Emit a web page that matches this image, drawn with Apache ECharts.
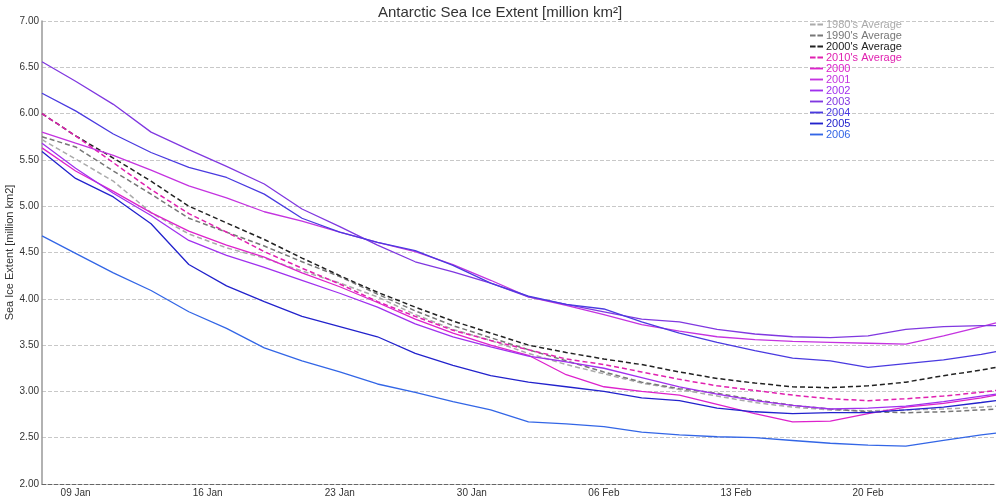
<!DOCTYPE html>
<html><head><meta charset="utf-8">
<script src="https://cdn.jsdelivr.net/npm/echarts@6/dist/echarts.min.js"></script>
<style>html,body{margin:0;padding:0;background:#fff}#c{width:1000px;height:500px}</style>
</head><body><div id="c"></div>
<script>
// day-of-year positions of the sampled points
const days = [7.22, 9, 11, 13, 15, 17, 19, 21, 23, 25, 27, 29, 31, 33, 35, 37, 39, 41, 43, 45, 47, 49, 51, 53, 55, 57, 57.78];
const tickDays = [9, 16, 23, 30, 37, 44, 51];
const tickLabels = ["09 Jan", "16 Jan", "23 Jan", "30 Jan", "06 Feb", "13 Feb", "20 Feb"];

const avg1980 = [5.72, 5.51, 5.27, 4.93, 4.70, 4.55, 4.44, 4.30, 4.17, 4.02, 3.83, 3.67, 3.55, 3.41, 3.29, 3.19, 3.09, 3.02, 2.95, 2.88, 2.83, 2.80, 2.79, 2.80, 2.81, 2.83, 2.84];
const avg1990 = [5.75, 5.64, 5.38, 5.13, 4.87, 4.72, 4.57, 4.40, 4.24, 4.05, 3.87, 3.71, 3.58, 3.45, 3.33, 3.21, 3.10, 3.03, 2.98, 2.91, 2.85, 2.81, 2.78, 2.77, 2.78, 2.80, 2.81];
const avg2000 = [6.00, 5.76, 5.52, 5.27, 5.00, 4.82, 4.64, 4.44, 4.25, 4.07, 3.91, 3.76, 3.63, 3.50, 3.42, 3.35, 3.29, 3.21, 3.14, 3.09, 3.05, 3.04, 3.06, 3.10, 3.17, 3.23, 3.26];
const avg2010 = [6.00, 5.76, 5.47, 5.18, 4.92, 4.72, 4.51, 4.33, 4.16, 3.97, 3.81, 3.66, 3.55, 3.45, 3.35, 3.29, 3.21, 3.13, 3.06, 3.01, 2.96, 2.92, 2.90, 2.92, 2.95, 2.99, 3.01];
const y2000 = [5.63, 5.38, 5.16, 4.93, 4.73, 4.58, 4.45, 4.28, 4.13, 3.96, 3.78, 3.63, 3.50, 3.39, 3.18, 3.05, 3.00, 2.96, 2.86, 2.76, 2.67, 2.68, 2.76, 2.83, 2.87, 2.93, 2.96];
const y2001 = [5.80, 5.68, 5.55, 5.39, 5.22, 5.09, 4.94, 4.84, 4.72, 4.61, 4.51, 4.37, 4.20, 4.02, 3.93, 3.83, 3.72, 3.65, 3.59, 3.56, 3.54, 3.53, 3.52, 3.51, 3.60, 3.70, 3.74];
const y2002 = [5.68, 5.41, 5.14, 4.90, 4.63, 4.47, 4.34, 4.20, 4.06, 3.91, 3.73, 3.59, 3.48, 3.38, 3.32, 3.25, 3.15, 3.05, 2.97, 2.90, 2.85, 2.81, 2.82, 2.84, 2.89, 2.95, 2.97];
const y2003 = [6.56, 6.35, 6.10, 5.80, 5.61, 5.43, 5.24, 4.97, 4.78, 4.58, 4.40, 4.29, 4.17, 4.02, 3.94, 3.86, 3.78, 3.75, 3.67, 3.62, 3.59, 3.58, 3.60, 3.67, 3.70, 3.71, 3.71];
const y2004 = [6.22, 6.03, 5.78, 5.58, 5.42, 5.31, 5.13, 4.87, 4.72, 4.61, 4.52, 4.36, 4.17, 4.03, 3.94, 3.89, 3.75, 3.63, 3.53, 3.44, 3.36, 3.33, 3.26, 3.30, 3.34, 3.40, 3.43];
const y2005 = [5.59, 5.30, 5.10, 4.81, 4.37, 4.14, 3.97, 3.81, 3.70, 3.59, 3.41, 3.28, 3.17, 3.10, 3.05, 3.00, 2.93, 2.90, 2.82, 2.78, 2.76, 2.77, 2.77, 2.80, 2.83, 2.88, 2.90];
const y2006 = [4.68, 4.49, 4.28, 4.09, 3.86, 3.68, 3.47, 3.33, 3.21, 3.08, 2.99, 2.89, 2.80, 2.67, 2.65, 2.62, 2.56, 2.53, 2.51, 2.50, 2.47, 2.44, 2.42, 2.41, 2.47, 2.53, 2.55];

const seriesDefs = [
  {name: "1980's Average", values: avg1980, color: "#aaaaaa", dashed: true},
  {name: "1990's Average", values: avg1990, color: "#777777", dashed: true},
  {name: "2000's Average", values: avg2000, color: "#222222", dashed: true},
  {name: "2010's Average", values: avg2010, color: "#e020b0", dashed: true},
  {name: "2000", values: y2000, color: "#dd22cc", dashed: false},
  {name: "2001", values: y2001, color: "#c433e0", dashed: false},
  {name: "2002", values: y2002, color: "#a030ee", dashed: false},
  {name: "2003", values: y2003, color: "#8038e0", dashed: false},
  {name: "2004", values: y2004, color: "#4a3ae0", dashed: false},
  {name: "2005", values: y2005, color: "#2222cc", dashed: false},
  {name: "2006", values: y2006, color: "#3366e6", dashed: false}
];

const DASH_ICON = 'path://M0,0H6V2H0Z M8,0H14V2H8Z';
const SOLID_ICON = 'path://M0,0H14V2H0Z';
const FONT = "'Liberation Sans', Arial, sans-serif";
const chart = echarts.init(document.getElementById('c'), null, {renderer: 'canvas'});
chart.setOption({
  animation: false,
  backgroundColor: '#ffffff',
  title: {
    text: 'Antarctic Sea Ice Extent [million km²]',
    left: 'center', top: 0,
    textStyle: {fontFamily: FONT, fontSize: 15, fontWeight: 'normal', color: '#333'}
  },
  legend: {
    orient: 'vertical', left: 810, top: 19,
    itemWidth: 13, itemHeight: 2, itemGap: 0, padding: 0,
    textStyle: {fontFamily: FONT, fontSize: 11, lineHeight: 10.4, padding: [0, 0, 0, -2]},
    data: seriesDefs.map(s => ({
      name: s.name,
      icon: s.dashed ? DASH_ICON : SOLID_ICON,
      itemStyle: {color: s.color},
      textStyle: {color: s.color}
    }))
  },
  grid: {left: 42, right: 4, top: 21, bottom: 16, containLabel: false, outerBoundsMode: 'none'},
  xAxis: {
    type: 'value', min: 7.22, max: 57.78,
    axisLine: {show: true, onZero: false, lineStyle: {color: '#666', type: 'dashed', width: 1}},
    axisTick: {show: false},
    splitLine: {show: false},
    axisLabel: {
      customValues: tickDays,
      formatter: v => tickLabels[tickDays.indexOf(v)] || '',
      fontFamily: FONT, fontSize: 10, color: '#333', margin: 4
    }
  },
  yAxis: {
    type: 'value', min: 2, max: 7, interval: 0.5,
    name: 'Sea Ice Extent [million km2]', nameLocation: 'middle', nameGap: 27, nameMoveOverlap: false,
    nameTextStyle: {fontFamily: FONT, fontSize: 11, color: '#333'},
    axisLine: {show: true, lineStyle: {color: '#999', width: 1.5}},
    axisTick: {show: false},
    splitLine: {show: true, lineStyle: {color: '#c8c8c8', type: 'dashed'}},
    axisLabel: {formatter: v => v.toFixed(2), fontFamily: FONT, fontSize: 10, color: '#333', margin: 3}
  },
  series: seriesDefs.map(s => ({
    name: s.name, type: 'line', symbol: 'none', smooth: false,
    data: days.map((d, i) => [d, s.values[i]]),
    lineStyle: {color: s.color, width: s.dashed ? 1.5 : 1.3, type: s.dashed ? [5, 3] : 'solid'},
    itemStyle: {color: s.color}
  }))
});
</script></body></html>
